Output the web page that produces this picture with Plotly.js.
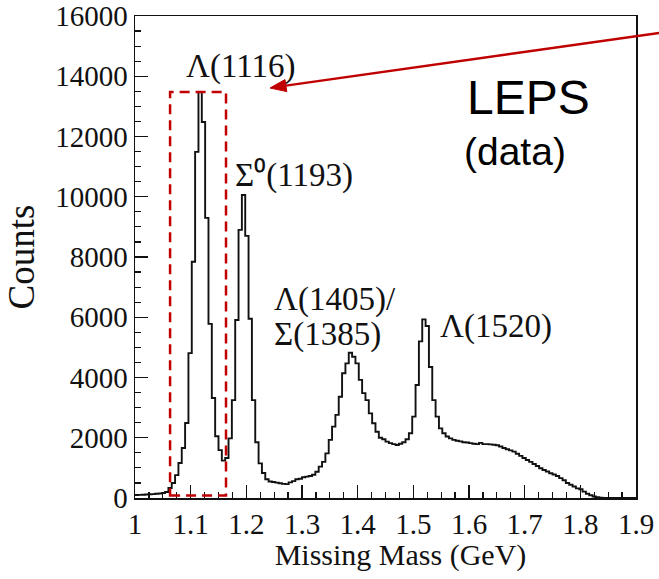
<!DOCTYPE html>
<html>
<head>
<meta charset="utf-8">
<script src="https://cdn.plot.ly/plotly-3.0.1.min.js"></script>
<style>
  html, body { margin: 0; padding: 0; background: #fff; }
  #chart { width: 659px; height: 579px; }
</style>
</head>
<body>
<div id="chart"></div>
<script>
// ---- data (histogram of missing mass, bin width 0.006 GeV) ----
const binStart = 1.0;
const binWidth = 0.006;
const counts = [
  100, 105, 110, 115, 125, 130, 140, 150, 165, 200,
  330, 500, 760, 1160, 1660, 2490, 4810, 7840, 11490, 13480,
  12480, 9300, 5780, 3320, 2050, 1590, 1240, 1330, 1980, 3250,
  5910, 8900, 10060, 8700, 5950, 3250, 1850, 1150, 830, 620,
  550, 530, 510, 490, 470, 460, 520, 560, 620, 640,
  690, 710, 730, 770, 870, 1040, 1200, 1480, 1930, 2370,
  2760, 3360, 4140, 4470, 4820, 4690, 4470, 3920, 3480, 3250,
  2810, 2480, 2200, 2000, 1950, 1870, 1820, 1790, 1760, 1800,
  1850, 1950, 2150, 2700, 3750, 5200, 5930, 5710, 4350, 3250,
  2700, 2310, 2150, 2040, 1980, 1930, 1900, 1880, 1850, 1840,
  1820, 1800, 1790, 1830, 1790, 1790, 1780, 1770, 1750, 1710,
  1660, 1620, 1580, 1540, 1470, 1400, 1330, 1260, 1200, 1130,
  1060, 990, 930, 880, 820, 780, 730, 660, 590, 500,
  440, 380, 320, 290, 210, 140, 90, 50, 25, 10,
  0, 0, 0, 0, 0, 0, 0, 0, 0, 0
];
const xTickVals = [1, 1.1, 1.2, 1.3, 1.4, 1.5, 1.6, 1.7, 1.8, 1.9];
const xTickText = ['1', '1.1', '1.2', '1.3', '1.4', '1.5', '1.6', '1.7', '1.8', '1.9'];
const yTickVals = [0, 2000, 4000, 6000, 8000, 10000, 12000, 14000, 16000];
const yTickText = ['0', '2000', '4000', '6000', '8000', '10000', '12000', '14000', '16000'];
const peakLabels = ['Λ(1116)', 'Σ⁰(1193)', 'Λ(1405)/', 'Σ(1385)', 'Λ(1520)'];
const xTitle = 'Missing Mass (GeV)';
const yTitle = 'Counts';

// ---- build step histogram from bin edges ----
const edges = [];
const stepY = [];
for (let i = 0; i < counts.length; i++) {
  edges.push(Number((binStart + i * binWidth).toFixed(4)));
  stepY.push(counts[i]);
}
edges.push(Number((binStart + counts.length * binWidth).toFixed(4)));
stepY.push(counts[counts.length - 1]);

const serif = 'Liberation Serif, Times New Roman, serif';
const sans = 'Liberation Sans, Arial, sans-serif';
const red = '#c00000';
const ink = '#111';

const trace = {
  type: 'scatter',
  mode: 'lines',
  x: edges,
  y: stepY,
  line: { shape: 'hv', color: ink, width: 1.9 },
  hoverinfo: 'skip',
  showlegend: false
};

const axisCommon = {
  showgrid: false,
  zeroline: false,
  showline: true,
  linecolor: ink,
  linewidth: 1.5,
  mirror: true,
  ticks: 'inside',
  ticklen: 13,
  tickwidth: 1.3,
  tickcolor: ink,
  tickfont: { family: serif, size: 29, color: ink },
  tickmode: 'array',
  automargin: false
};

// arrow (decoration) in paper fractions of the plot area
const arrowTail = [1.054, 0.966];
const arrowBase = [0.3012, 0.8556];
const arrowTip = [0.2695, 0.8506];
const arrowSide1 = [0.3030, 0.8432];
const arrowSide2 = [0.2994, 0.8680];

const layout = {
  width: 659,
  height: 579,
  margin: { l: 135, r: 23, t: 16, b: 81 },
  paper_bgcolor: '#fff',
  plot_bgcolor: '#fff',
  showlegend: false,
  xaxis: Object.assign({}, axisCommon, {
    range: [1, 1.9],
    tickvals: xTickVals,
    ticktext: xTickText,
    title: { text: xTitle, font: { family: serif, size: 30, color: ink }, standoff: 4 },
    minor: { ticks: 'inside', ticklen: 6, tickwidth: 1.2, tickcolor: ink, tick0: 1, dtick: 0.025, showgrid: false }
  }),
  yaxis: Object.assign({}, axisCommon, {
    range: [0, 16000],
    tickvals: yTickVals,
    ticktext: yTickText,
    title: { text: yTitle, font: { family: serif, size: 37, color: ink }, standoff: 9 },
    minor: { ticks: 'inside', ticklen: 6, tickwidth: 1.2, tickcolor: ink, tick0: 0, dtick: 500, showgrid: false }
  }),
  shapes: [
    {
      type: 'rect', xref: 'x', yref: 'y',
      x0: 1.063, x1: 1.1635, y0: 80, y1: 13480,
      line: { color: red, width: 2.5, dash: '10px,6px' },
      fillcolor: 'rgba(0,0,0,0)'
    },
    {
      type: 'line', xref: 'paper', yref: 'paper',
      x0: arrowTail[0], y0: arrowTail[1], x1: arrowBase[0], y1: arrowBase[1],
      line: { color: red, width: 2.4 }
    },
    {
      type: 'path', xref: 'paper', yref: 'paper',
      path: 'M ' + arrowTip[0] + ' ' + arrowTip[1] + ' L ' + arrowSide1[0] + ' ' + arrowSide1[1] +
            ' L ' + arrowSide2[0] + ' ' + arrowSide2[1] + ' Z',
      fillcolor: red,
      line: { color: red, width: 1 }
    }
  ],
  annotations: [
    { text: peakLabels[0], xref: 'x', yref: 'y', x: 1.088, y: 14330, xanchor: 'left', yanchor: 'middle', showarrow: false, font: { family: serif, size: 33, color: ink } },
    { text: peakLabels[1], xref: 'x', yref: 'y', x: 1.176, y: 10700, xanchor: 'left', yanchor: 'middle', showarrow: false, font: { family: serif, size: 33, color: ink } },
    { text: peakLabels[2], xref: 'x', yref: 'y', x: 1.246, y: 6600, xanchor: 'left', yanchor: 'middle', showarrow: false, font: { family: serif, size: 33, color: ink } },
    { text: peakLabels[3], xref: 'x', yref: 'y', x: 1.246, y: 5440, xanchor: 'left', yanchor: 'middle', showarrow: false, font: { family: serif, size: 33, color: ink } },
    { text: peakLabels[4], xref: 'x', yref: 'y', x: 1.5443, y: 5680, xanchor: 'left', yanchor: 'middle', showarrow: false, font: { family: serif, size: 33, color: ink } },
    { text: 'LEPS', xref: 'x', yref: 'y', x: 1.7077, y: 13300, xanchor: 'center', yanchor: 'middle', showarrow: false, font: { family: sans, size: 48, color: '#000' } },
    { text: '(data)', xref: 'x', yref: 'y', x: 1.6835, y: 11500, xanchor: 'center', yanchor: 'middle', showarrow: false, font: { family: sans, size: 39, color: '#000' } }
  ]
};

Plotly.newPlot('chart', [trace], layout, { staticPlot: true, displayModeBar: false }).then(function (gd) {
  // the reference's x title sits a little right of the plot centre
  const xt = gd.querySelector('.g-xtitle');
  if (xt) xt.setAttribute('transform', 'translate(15,0)');
  // drop Plotly's hidden text-measuring helper once drawing is done
  const tester = document.getElementById('js-plotly-tester');
  if (tester) tester.remove();
});
</script>
</body>
</html>
